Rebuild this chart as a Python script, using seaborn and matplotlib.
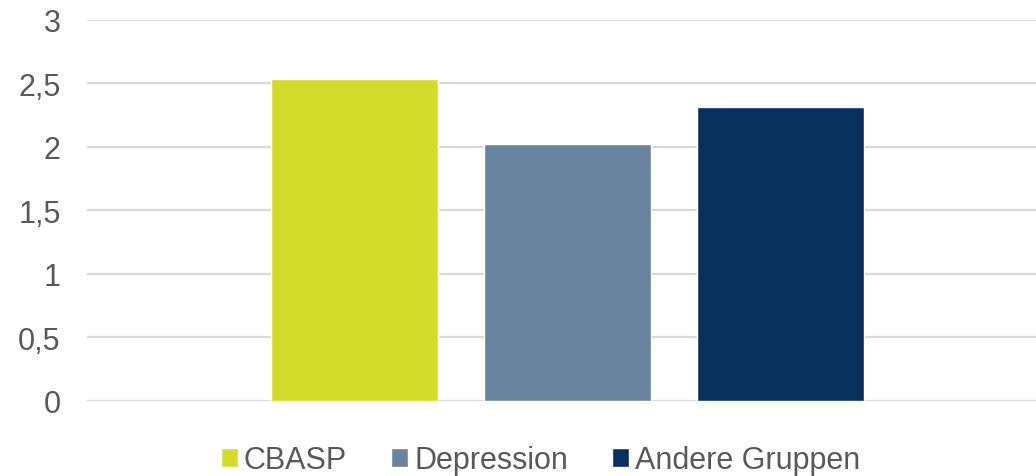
import matplotlib
matplotlib.use("Agg")
import matplotlib.pyplot as plt
import seaborn as sns
import pandas as pd

categories = ["Gruppe"]
series = ["CBASP", "Depression", "Andere Gruppen"]
values = [2.53, 2.02, 2.31]
colors = ["#D4DC2A", "#6A84A0", "#08305F"]
yticks = [0, 0.5, 1, 1.5, 2, 2.5, 3]
ytick_labels = ["0", "0,5", "1", "1,5", "2", "2,5", "3"]

sns.set_theme(style="white")
plt.rcParams["font.family"] = ["Liberation Sans", "DejaVu Sans"]

df = pd.DataFrame({"cat": categories * len(series), "series": series, "value": values})

fig = plt.figure(figsize=(10.36, 4.77), dpi=100)
ax = fig.add_axes([0.084, 0.158, 0.916, 0.7986])
sns.barplot(data=df, x="cat", y="value", hue="series", hue_order=series,
            palette=colors, width=0.673, gap=0.216, saturation=1, ax=ax,
            errorbar=None, zorder=3)

ax.set_ylim(0, 3)
ax.set_xlim(-0.506, 0.494)
ax.set_yticks(yticks)
ax.set_yticklabels(ytick_labels)
ax.set_xticks([])
ax.set_xlabel("")
ax.set_ylabel("")
for s in ax.spines.values():
    s.set_visible(False)
ax.yaxis.grid(True, color="#D9D9D9", linewidth=1.6, zorder=0)
ax.set_axisbelow(True)
ax.tick_params(axis="y", length=0, pad=19, labelsize=22, labelcolor="#595959")

leg = ax.get_legend()
if leg is not None:
    leg.remove()
handles, labels = ax.get_legend_handles_labels()
fig.legend(handles, labels, loc="center", bbox_to_anchor=(0.522, 0.033),
           ncol=3, frameon=False, fontsize=22, labelcolor="#595959",
           handlelength=0.55, handleheight=0.55, handletextpad=0.2,
           columnspacing=1.45, borderaxespad=0)

fig.savefig("out.png", dpi=100)
